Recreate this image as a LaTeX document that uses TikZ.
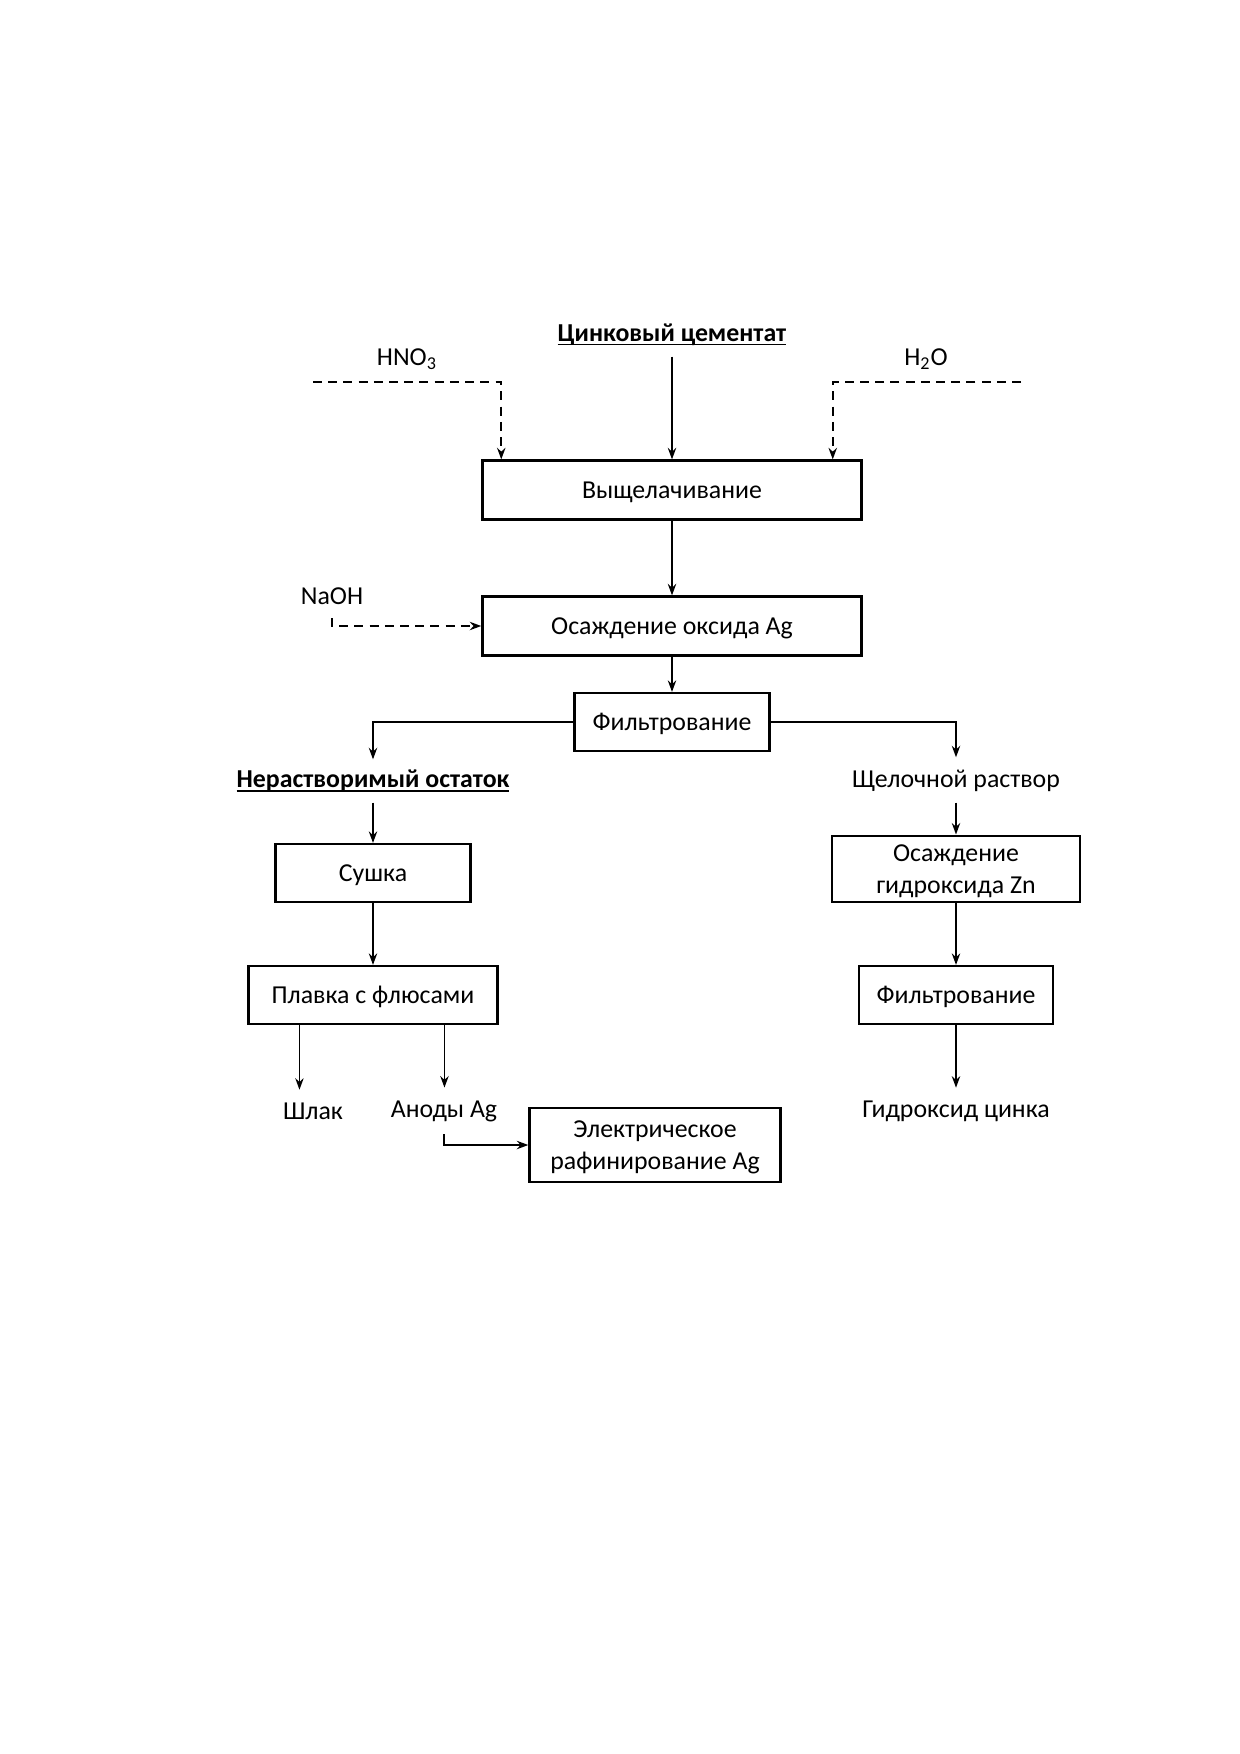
\documentclass[tikz,border=0pt]{standalone}
\usepackage{fontspec}
\setmainfont{Carlito}
\usetikzlibrary{arrows.meta, positioning}

\newcommand{\undl}[1]{\setbox0\hbox{#1}\rlap{\rule[-1.8pt]{\wd0}{0.7pt}}\box0}

\tikzset{
  stepbox/.style={draw, line width=1.1pt, align=center, inner sep=0pt, text depth=0pt, minimum height=27.8pt},
  flow/.style={line width=0.9pt, -{Stealth[length=5.5pt, width=4pt]}},
  feed/.style={flow, dash pattern=on 4.3pt off 3pt},
  lbl/.style={inner sep=2pt},
}

\begin{document}
\begin{tikzpicture}[x=0.48pt, y=-0.48pt, font=\fontsize{12.4}{15}\selectfont]
    \useasboundingbox (0,0) rectangle (1240,1754);

    % main line
    \node[lbl] (cement) at (672,335) {\undl{\textbf{Цинковый цементат}}};
    \node[lbl] (hno) at (407,359) {HNO\textsubscript{3}};
    \node[lbl] (water) at (926,359) {H\textsubscript{2}O};
    \node[stepbox, minimum width=182pt, minimum height=28.3pt] (leach) at (672,490) {Выщелачивание};
    \node[lbl] (naoh) at (332,596) {NaOH};
    \node[stepbox, minimum width=182pt, minimum height=28.3pt] (oxide) at (672,626) {Осаждение оксида Ag};
    \node[stepbox, minimum width=93.6pt] (filt) at (672,722) {Фильтрование};

    \coordinate (hnoIn) at (313,382);
    \coordinate (waterIn) at (1021,382);
    \coordinate (naohIn) at (332,618);

    \draw[flow, shorten <=3pt] (cement.south) -- (leach.north);
    \draw[feed] (hnoIn) -| ([xshift=9.6pt]leach.north west);
    \draw[feed] (waterIn) -| ([xshift=-14.4pt]leach.north east);
    \draw[flow] (leach) -- (oxide);
    \draw[feed] (naohIn) |- (oxide.west);
    \draw[flow] (oxide) -- (filt);

    % left branch
    \node[lbl] (residue) at (373,781) {\undl{\textbf{Нерастворимый остаток}}};
    \node[stepbox, minimum width=93.6pt] (dry) at (373,873) {Сушка};
    \node[stepbox, minimum width=119.5pt] (melt) at (373,995) {Плавка с флюсами};
    \node[lbl] (slag) at (313,1111) {Шлак};
    \node[lbl] (anode) at (444,1111) {Аноды Ag};
    \node[stepbox, minimum width=120.5pt, minimum height=35.5pt] (refine) at (655,1145) {Электрическое\\рафинирование Ag};

    \coordinate (slagOut) at ([xshift=25pt]melt.south west);
    \coordinate (anodeOut) at ([xshift=-26pt]melt.south east);

    \draw[flow, shorten >=3pt] (filt.west) -| (residue.north);
    \draw[flow, shorten <=3pt] (residue) -- (dry);
    \draw[flow] (dry) -- (melt);
    \draw[flow, shorten >=4pt] (slagOut) -- (slagOut |- slag.north);
    \draw[flow, shorten >=4pt] (anodeOut) -- (anodeOut |- anode.north);
    \draw[flow, shorten <=4pt] (anode.south) |- (refine.west);

    % right branch
    \node[lbl] (alkali) at (956,781) {Щелочной раствор};
    \node[stepbox, minimum width=119pt, minimum height=32pt] (znprec) at (956,869) {Осаждение\\гидроксида Zn};
    \node[stepbox, minimum width=93pt] (filtZn) at (956,995) {Фильтрование};
    \node[lbl] (zinc) at (956,1111) {Гидроксид цинка};

    \draw[flow, shorten >=4pt] (filt.east) -| (alkali.north);
    \draw[flow, shorten <=3pt] (alkali) -- (znprec);
    \draw[flow] (znprec) -- (filtZn);
    \draw[flow, shorten >=4pt] (filtZn) -- (zinc);
\end{tikzpicture}
\end{document}
